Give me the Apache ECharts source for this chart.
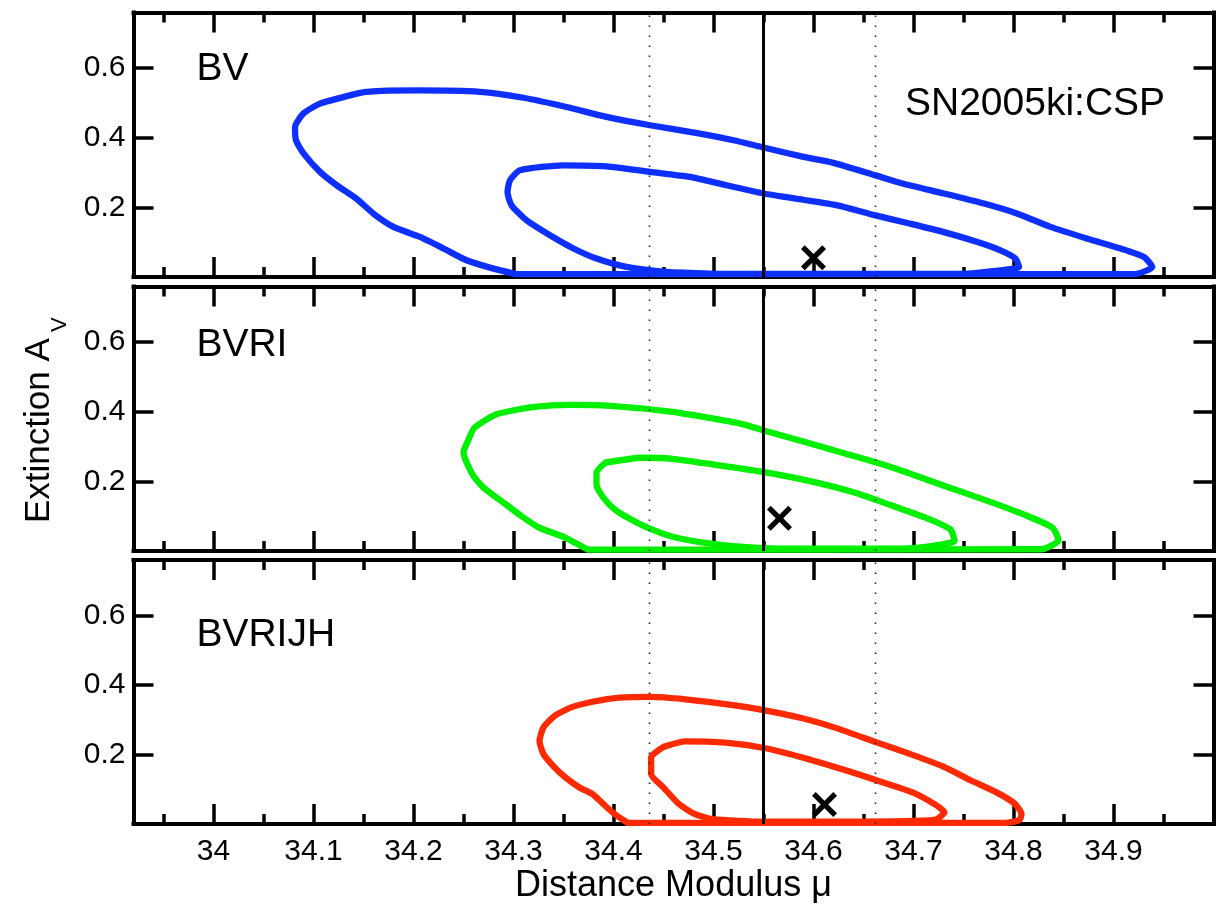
<!DOCTYPE html>
<html>
<head>
<meta charset="utf-8">
<script src="https://cdn.jsdelivr.net/npm/echarts@6/dist/echarts.min.js"></script>
<style>
html,body{margin:0;padding:0;background:#fff;}
#chart{width:1224px;height:905px;}
</style>
</head>
<body>
<div id="chart"></div>
<script>
// ---------- data ----------
const panelNames = ['BV', 'BVRI', 'BVRIJH'];
const objectName = 'SN2005ki:CSP';
const xTickMajor = [34, 34.1, 34.2, 34.3, 34.4, 34.5, 34.6, 34.7, 34.8, 34.9];
const xTickMinor = [33.95, 34.05, 34.15, 34.25, 34.35, 34.45, 34.55, 34.65, 34.75, 34.85, 34.95];
const yTicks = [0.2, 0.4, 0.6];
const xMin = 33.92, xMax = 35.0, yMin = 0, yMax = 0.76;

const muBest = 34.55;
const muLow = 34.436;
const muHigh = 34.662;

// best-fit points (mu, Av) per panel
const bestBV = [34.60, 0.055];
const bestBVRI = [34.566, 0.094];
const bestBVRIJH = [34.611, 0.056];

// contours (mu, Av)
const bvOuter = [
  [34.303,0.008],[34.28,0.024],[34.253,0.048],[34.23,0.082],[34.2065,0.115],[34.18,0.144],
  [34.16,0.182],[34.143,0.225],[34.123,0.264],[34.1065,0.302],[34.09,0.355],[34.0825,0.393],
  [34.0815,0.431],[34.09,0.47],[34.1065,0.498],[34.1365,0.522],[34.153,0.532],[34.2032,0.536],
  [34.2665,0.532],[34.31,0.515],[34.353,0.4885],[34.393,0.46],[34.4365,0.436],[34.4865,0.412],
  [34.52,0.393],[34.55,0.372],[34.59,0.345],[34.62,0.328],[34.662,0.292],[34.69,0.268],
  [34.7305,0.24],[34.7705,0.211],[34.804,0.182],[34.837,0.144],[34.874,0.110],[34.907,0.082],
  [34.9305,0.0575],[34.9388,0.029],[34.9205,0.008]
];
const bvInner = [
  [34.5,0.009],[34.453,0.0144],[34.413,0.029],[34.383,0.053],[34.36,0.082],[34.3365,0.12],
  [34.313,0.163],[34.298,0.206],[34.294,0.244],[34.2965,0.278],[34.3065,0.3066],[34.3498,0.321],
  [34.393,0.318],[34.4365,0.302],[34.4765,0.2874],[34.513,0.2635],[34.55,0.24],[34.59,0.222],
  [34.624,0.206],[34.662,0.177],[34.697,0.153],[34.7305,0.129],[34.764,0.1006],[34.787,0.0767],
  [34.802,0.053],[34.8055,0.029],[34.777,0.016],[34.7505,0.009]
];
const bvriOuter = [
  [34.3744,0.004],[34.352,0.038],[34.3256,0.067],[34.3078,0.1006],[34.29,0.139],[34.27,0.182],
  [34.259,0.22],[34.25,0.283],[34.2544,0.316],[34.261,0.354],[34.283,0.393],[34.321,0.414],
  [34.357,0.42],[34.397,0.417],[34.459,0.40],[34.499,0.381],[34.53,0.364],[34.552,0.345],
  [34.588,0.316],[34.628,0.283],[34.663,0.254],[34.699,0.22],[34.734,0.184],[34.774,0.144],
  [34.814,0.1006],[34.839,0.067],[34.845,0.031],[34.828,0.005]
];
const bvriInner = [
  [34.392,0.254],[34.383,0.225],[34.383,0.192],[34.39,0.153],[34.401,0.12],[34.414,0.096],
  [34.434,0.067],[34.459,0.041],[34.49,0.024],[34.53,0.0115],[34.566,0.0067],[34.69,0.0067],
  [34.741,0.029],[34.737,0.062],[34.712,0.096],[34.677,0.132],[34.641,0.168],[34.601,0.198],
  [34.548,0.228],[34.499,0.249],[34.459,0.265],[34.428,0.268]
];
const bvrijhOuter = [
  [34.4144,0.003],[34.401,0.029],[34.39,0.057],[34.379,0.086],[34.366,0.105],[34.352,0.134],
  [34.341,0.163],[34.33,0.201],[34.326,0.239],[34.33,0.278],[34.341,0.311],[34.357,0.335],
  [34.379,0.352],[34.406,0.364],[34.437,0.366],[34.472,0.359],[34.512,0.345],[34.55,0.328],
  [34.588,0.305],[34.623,0.276],[34.663,0.235],[34.699,0.199],[34.73,0.165],[34.757,0.126],
  [34.783,0.091],[34.801,0.059],[34.808,0.029],[34.806,0.0115],[34.792,0.003]
];
const bvrijhInner = [
  [34.45,0.222],[34.4376,0.192],[34.4376,0.144],[34.45,0.105],[34.4656,0.057],[34.481,0.029],
  [34.499,0.014],[34.55,0.0067],[34.632,0.0067],[34.721,0.0115],[34.731,0.0335],[34.721,0.057],
  [34.699,0.091],[34.663,0.126],[34.628,0.158],[34.588,0.192],[34.552,0.218],[34.512,0.234],
  [34.472,0.238]
];

const panelColors = ['#0d2fff', '#00f000', '#ff2a00'];

// ---------- build chart ----------
const FONT = '"Liberation Sans", Arial, Helvetica, sans-serif';
const panels = [
  {outer: bvOuter, inner: bvInner, best: bestBV},
  {outer: bvriOuter, inner: bvriInner, best: bestBVRI},
  {outer: bvrijhOuter, inner: bvrijhInner, best: bestBVRIJH}
];
const gridTops = [12.5, 286.5, 560];
const grids = gridTops.map(t => ({left: 133.5, width: 1080, top: t, height: 264.5}));

const xAxes = [], yAxes = [];
function xAx(g, pos, vals, len, showLine, showLabel) {
  return {
    type: 'value', gridIndex: g, min: xMin, max: xMax, position: pos,
    axisLine: {show: showLine, onZero: false, lineStyle: {color: '#000', width: 4, cap: 'square'}},
    axisTick: {show: true, inside: true, length: len, customValues: vals, lineStyle: {color: '#000', width: 3.5}},
    axisLabel: {show: showLabel, customValues: vals, margin: 13, fontSize: 30, color: '#000', fontFamily: FONT},
    splitLine: {show: false}
  };
}
for (let g = 0; g < 3; g++) {
  const bottomMajor = xAx(g, 'bottom', xTickMajor, 20, true, g === 2);
  if (g === 2) {
    bottomMajor.name = 'Distance Modulus \u03bc';
    bottomMajor.nameLocation = 'middle';
    bottomMajor.nameGap = 44;
    bottomMajor.nameTextStyle = {fontSize: 36, color: '#000', fontFamily: FONT};
  }
  xAxes.push(bottomMajor);
  xAxes.push(xAx(g, 'bottom', xTickMinor, 10, false, false));
  xAxes.push(xAx(g, 'top', xTickMajor, 20, true, false));
  xAxes.push(xAx(g, 'top', xTickMinor, 10, false, false));
  ['left', 'right'].forEach(pos => {
    yAxes.push({
      type: 'value', gridIndex: g, min: yMin, max: yMax, position: pos,
      axisLine: {show: true, onZero: false, lineStyle: {color: '#000', width: 4, cap: 'square'}},
      axisTick: {show: true, inside: true, length: 20, customValues: yTicks, lineStyle: {color: '#000', width: 3.5}},
      axisLabel: {show: pos === 'left', customValues: yTicks, margin: 8, fontSize: 30, color: '#000', fontFamily: FONT},
      splitLine: {show: false}
    });
  });
}

const crossPath = 'path://M0,3.6L3.6,0L12,8.4L20.4,0L24,3.6L15.6,12L24,20.4L20.4,24L12,15.6L3.6,24L0,20.4L8.4,12Z';
const series = [];
panels.forEach((p, g) => {
  const xi = g * 4, yi = g * 2;
  [p.outer, p.inner].forEach(c => {
    series.push({
      type: 'line', xAxisIndex: xi, yAxisIndex: yi, data: c.concat([c[0]]),
      showSymbol: false, symbol: 'none', clip: false, z: 2, silent: true, smooth: 0.2,
      lineStyle: {color: panelColors[g], width: 6.3, cap: 'round', join: 'round'}
    });
  });
  [muLow, muHigh].forEach(m => {
    series.push({
      type: 'line', xAxisIndex: xi, yAxisIndex: yi, data: [[m, yMin], [m, yMax]],
      showSymbol: false, symbol: 'none', z: 3, silent: true,
      lineStyle: {color: '#222', width: 1.6, type: [1.4, 8.6]}
    });
  });
  series.push({
    type: 'line', xAxisIndex: xi, yAxisIndex: yi, data: [[muBest, yMin], [muBest, yMax]],
    showSymbol: false, symbol: 'none', z: 3, silent: true,
    lineStyle: {color: '#000', width: 3}
  });
  series.push({
    type: 'scatter', xAxisIndex: xi, yAxisIndex: yi, data: [p.best],
    symbol: crossPath, symbolSize: 25, z: 4, silent: true,
    itemStyle: {color: '#000', opacity: 1}
  });
});

const labelY = [69.6, 345.2, 635];
const graphics = panelNames.map((n, i) => ({
  type: 'text', x: 196.4, y: labelY[i],
  style: {text: n, fontSize: 39, fontFamily: FONT, fill: '#000', textVerticalAlign: 'middle', textAlign: 'left'}
}));
graphics.push({
  type: 'text', x: 905, y: 104.6,
  style: {text: objectName, fontSize: 39, fontFamily: FONT, fill: '#000', textVerticalAlign: 'middle', textAlign: 'left'}
});
graphics.push({
  type: 'text', x: 39, y: 523, rotation: Math.PI / 2,
  style: {text: 'Extinction A', fontSize: 35, fontFamily: FONT, fill: '#000', textVerticalAlign: 'middle', textAlign: 'left'}
});
graphics.push({
  type: 'text', x: 59.8, y: 332, rotation: Math.PI / 2,
  style: {text: 'V', fontSize: 22, fontFamily: FONT, fill: '#000', textVerticalAlign: 'middle', textAlign: 'left'}
});

const chart = echarts.init(document.getElementById('chart'), null, {renderer: 'canvas'});
chart.setOption({
  backgroundColor: '#fff',
  animation: false,
  grid: grids,
  xAxis: xAxes,
  yAxis: yAxes,
  series: series,
  graphic: graphics
});
</script>
</body>
</html>
